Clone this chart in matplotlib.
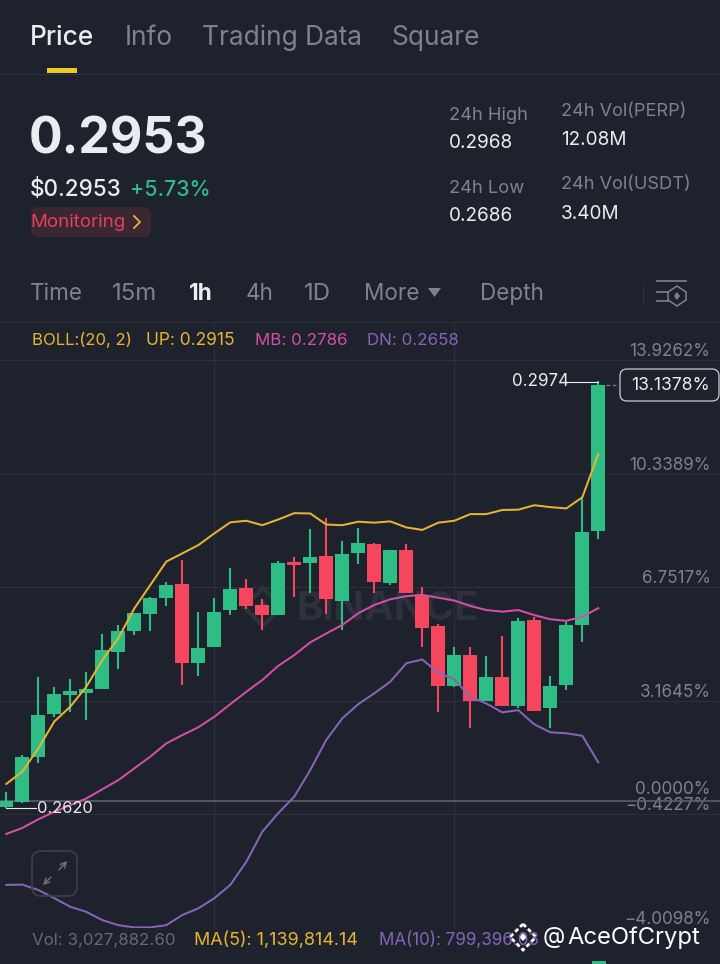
import matplotlib
matplotlib.use("Agg")
import matplotlib.pyplot as plt
import numpy as np
from matplotlib.patches import FancyBboxPatch, Rectangle, Polygon

plt.rcParams['font.family'] = ['Inter', 'DejaVu Sans']

# ---------- data (percent change) ----------
opens = [-0.18,-0.02,1.38,2.74,3.35,3.40,3.55,4.72,5.37,5.91,6.40,6.85,4.35,4.87,6.02,6.74,6.20,5.87,7.55,7.51,7.74,6.33,7.83,
         8.12,6.89,7.93,6.51,5.53,3.62,4.61,3.17,3.93,3.01,5.72,2.94,3.66,5.56,8.53]
closes = [0.00,1.38,2.71,3.39,3.47,3.55,4.76,5.37,5.94,6.40,6.82,4.35,4.83,5.98,6.71,6.17,5.87,7.51,7.46,7.69,6.37,7.80,8.15,
          6.91,7.93,6.56,5.45,3.62,4.61,3.17,3.93,3.01,5.68,2.85,3.64,5.56,8.48,13.14]
highs = [0.29,1.45,3.93,3.61,3.85,4.06,5.26,5.55,5.94,6.44,6.93,7.61,5.98,6.40,7.35,7.01,6.39,7.57,7.69,8.58,8.94,8.22,8.62,
         8.16,7.93,8.12,6.77,5.59,4.87,4.87,4.58,5.21,5.79,5.82,3.96,5.66,9.56,13.27]
lows = [-0.23,-0.07,1.21,2.66,2.82,2.56,3.55,4.16,5.25,5.37,6.17,3.66,3.96,4.85,5.86,6.06,5.40,5.87,6.44,6.56,5.91,5.40,7.48,
        6.56,6.82,6.56,4.85,2.82,3.59,2.29,3.17,3.01,2.95,2.85,2.29,3.51,5.03,8.27]
boll_up = [0.54,0.93,1.66,2.51,2.98,3.61,4.45,5.14,6.08,6.82,7.56,7.82,8.08,8.45,8.80,8.85,8.71,8.89,9.09,9.08,8.73,8.71,8.82,
           8.79,8.83,8.64,8.56,8.79,8.85,9.06,9.06,9.19,9.20,9.34,9.28,9.24,9.59,10.96]
boll_mb = [-1.04,-0.85,-0.58,-0.34,-0.13,0.08,0.37,0.66,1.03,1.40,1.82,2.08,2.33,2.66,3.06,3.45,3.82,4.27,4.61,5.01,5.29,5.56,5.93,
           6.19,6.37,6.47,6.51,6.42,6.33,6.16,6.03,5.98,6.03,5.87,5.74,5.69,5.82,6.09]
boll_dn = [-2.65,-2.64,-2.81,-3.07,-3.34,-3.50,-3.76,-3.92,-3.99,-3.99,-3.92,-3.60,-3.39,-3.07,-2.65,-1.92,-0.97,-0.38,0.14,0.98,1.93,2.61,3.06,
           3.40,3.77,4.35,4.47,4.05,3.84,3.29,3.08,2.80,2.87,2.42,2.17,2.14,2.06,1.22]
y_ticks = [13.9262,10.3389,6.7517,3.1645,-0.4227,-4.0098]
y_tick_labels = ['13.9262%','10.3389%','6.7517%','3.1645%','\u22120.4227%','\u22124.0098%']
base_level = 0.0
base_label = '0.0000%'
last_label = '13.1378%'
high_label = '0.2974'
low_label = '0.2620'
tabs = ['Price','Info','Trading Data','Square']
intervals = ['Time','15m','1h','4h','1D','More','Depth']

BG = '#1e222d'
GRID = '#2c313c'
GREEN = '#2ebd85'
RED = '#f6465d'
YEL = '#e7b432'
PINK = '#d44fa8'
PUR = '#8764b8'
GREY = '#7c828e'
WHITE = '#eaecef'
TICK_PT = 12.3

W, H = 720, 964
fig = plt.figure(figsize=(W/100, H/100), dpi=100, facecolor=BG)

# ---------- watermark layer, beneath the chart ----------
wm = fig.add_axes([0, 0, 1, 1], facecolor='none', zorder=0)
wm.set_xlim(0, W); wm.set_ylim(H, 0); wm.axis('off')
cx, cy, r = 263, 607, 7
wm.add_patch(Polygon([[cx,cy-19],[cx+19,cy],[cx,cy+19],[cx-19,cy]],fc='none',ec='#2c313c',lw=3))
wm.add_patch(Polygon([[cx,cy-r],[cx+r,cy],[cx,cy+r],[cx-r,cy]],color='#2c313c',lw=0))
wm.text(296, 609, 'BINANCE', fontsize=40*0.72, color='#2c313c', fontweight='bold', va='center')

# ---------- chart axes: y 360..928 px ----------
ax = fig.add_axes([0, (H-928)/H, 1, (928-360)/H], facecolor='none', zorder=1)
ax.set_ylim(y_ticks[-1], y_ticks[0])
ax.set_xlim(-6.3/16, (720-6.3)/16)
for s in ax.spines.values():
    s.set_visible(False)
ax.yaxis.tick_right()
ax.set_yticks(y_ticks)
ax.set_yticklabels(y_tick_labels, ha='right', va='bottom', fontsize=TICK_PT, color=GREY)
ax.tick_params(axis='y', length=0, pad=-6.8)
ax.set_xticks([13, 28])
ax.set_xticklabels([])
ax.tick_params(axis='x', length=0)
ax.grid(True, color=GRID, lw=0.8)
ax.set_axisbelow(True)
ax.axhline(base_level, color='#5a5f6a', lw=1.2, zorder=1)
ax.annotate(base_label, (1, base_level), xycoords=('axes fraction', 'data'), xytext=(-6.8, 2),
            textcoords='offset points', ha='right', va='bottom', fontsize=TICK_PT, color=GREY)

x = np.arange(len(opens))
opens_a, closes_a = np.array(opens), np.array(closes)
cols = [GREEN if c >= o else RED for o, c in zip(opens, closes)]
ax.vlines(x, lows, highs, colors=cols, lw=1.5, zorder=3)
ax.bar(x, closes_a-opens_a, bottom=opens_a, width=0.86, color=cols, zorder=3, lw=0)
ax.plot(x, boll_up, color=YEL, lw=1.45, zorder=4)
ax.plot(x, boll_mb, color=PINK, lw=1.45, zorder=4)
ax.plot(x, boll_dn, color=PUR, lw=1.45, zorder=4)

# ---------- overlay in pixel coordinates ----------
ov = fig.add_axes([0, 0, 1, 1], facecolor='none', zorder=2)
ov.set_xlim(0, W); ov.set_ylim(H, 0); ov.axis('off')

def T(x, y, s, px, color, weight='normal', ha='left', va='center', **kw):
    return ov.text(x, y + px*0.08, s, fontsize=px*0.72, color=color, fontweight=weight, ha=ha, va=va, **kw)

# tabs
for tx, s, c, w in zip([30,125,202,391], tabs, [WHITE,GREY,GREY,GREY], ['medium','normal','normal','normal']):
    T(tx, 36, s, 26.3, c, w)
ov.add_patch(Rectangle((47,68),30,5,color='#f0c929',lw=0))
ov.plot([0,720],[73.5,73.5],color=GRID,lw=0.8)
# price block
T(29,136,'0.2953',50,WHITE,'bold')
T(30,188,'$0.2953',22.5,WHITE,'medium')
T(130,188,'+5.73%',21.3,GREEN,'medium')
ov.add_patch(FancyBboxPatch((34,210),114,24,boxstyle='round,pad=3,rounding_size=7',fc='#3a2732',ec='none'))
T(30,221,'Monitoring',18.7,'#e6405a')
ov.plot([134,140,134],[216,222,228],color=YEL,lw=1.3)
T(449,114,'24h High',18.4,GREY); T(449,141,'0.2968',19,WHITE)
T(449,187,'24h Low',18.4,GREY);  T(449,214,'0.2686',19,WHITE)
T(561,110,'24h Vol(PERP)',18.2,GREY); T(561,138,'12.08M',19,WHITE)
T(561,183,'24h Vol(USDT)',18.2,GREY); T(561,212,'3.40M',19,WHITE)
# intervals
for tx, s, c, w, sz in zip([30,112,189,246,304,364,480], intervals, [GREY,GREY,WHITE,GREY,GREY,GREY,GREY],
                       ['normal','normal','bold','normal','normal','normal','normal'],[22.5,24,22.5,22.5,24,22.5,22.5]):
    T(tx, 292, s, sz, c, w)
ov.add_patch(Polygon([[428,288],[441,288],[434.5,297]],color=GREY,lw=0))
ov.plot([643,643],[281,303],color=GRID,lw=0.8)
ov.plot([657,686],[281,281],color=GREY,lw=1.2)
ov.plot([657,668],[292,292],color=GREY,lw=1.2); ov.plot([657,668],[301,301],color=GREY,lw=1.2)
ov.add_patch(Polygon([[677,286],[686,292],[686,300],[677,306],[668,300],[668,292]],fc='none',ec=GREY,lw=1.1))
ov.add_patch(Polygon([[677,292],[680,296],[677,300],[674,296]],color=GREY,lw=0))
ov.plot([0,720],[322,322],color=GRID,lw=0.8)
for vx in [214.3,454.3]:
    ov.plot([vx,vx],[322,360],color=GRID,lw=0.8,zorder=0)
# boll legend
T(32,339,'BOLL:(20, 2)',16.7,YEL); T(146,339,'UP: 0.2915',17.4,YEL)
T(255,339,'MB: 0.2786',16.9,PINK); T(367,339,'DN: 0.2658',16.9,PUR)
# callouts
T(512,380,high_label,17,WHITE)
ov.plot([568,598],[382,382],color=WHITE,lw=0.8)
T(37,807,low_label,16.5,WHITE)
ov.plot([6,36],[807.5,807.5],color=WHITE,lw=0.8)
ov.plot([606,620],[385,385],color=GREY,lw=0.9,ls=(0,(3,2)))
ov.add_patch(FancyBboxPatch((624,373),91,24,boxstyle='round,pad=4,rounding_size=7',fc=BG,ec='#c9ccd2',lw=0.9))
T(670,384,last_label,17.5,WHITE,ha='center')
# expand button
ov.add_patch(FancyBboxPatch((36,855),37,37,boxstyle='round,pad=4,rounding_size=9',fc='none',ec='#3a3f4a',lw=1.2))
ov.annotate('',xy=(69,859),xytext=(57,872),arrowprops=dict(arrowstyle='->',color='#6d727d',lw=1))
ov.annotate('',xy=(41,887),xytext=(53,875),arrowprops=dict(arrowstyle='->',color='#6d727d',lw=1))
# bottom volume legend
T(32,939,'Vol: 3,027,882.60',16.9,'#646a76')
T(194,939,'MA(5): 1,139,814.14',18,YEL)
T(379,939,'MA(10): 799,396.03',17,PUR)
ov.add_patch(Rectangle((592,961),14,3,color=GREEN,lw=0))
# attribution
ax_cx, ax_cy = 523, 937
ov.add_patch(Polygon([[ax_cx,ax_cy-13],[ax_cx+13,ax_cy],[ax_cx,ax_cy+13],[ax_cx-13,ax_cy]],fc='none',ec='white',lw=2,ls=(0,(1.5,1))))
ov.add_patch(Polygon([[ax_cx,ax_cy-4],[ax_cx+4,ax_cy],[ax_cx,ax_cy+4],[ax_cx-4,ax_cy]],color='white',lw=0))
T(543,935,'@',23,'white')
T(567,936,'AceOfCrypt',23.8,'white')

fig.savefig('out.png', dpi=100, facecolor=BG)
